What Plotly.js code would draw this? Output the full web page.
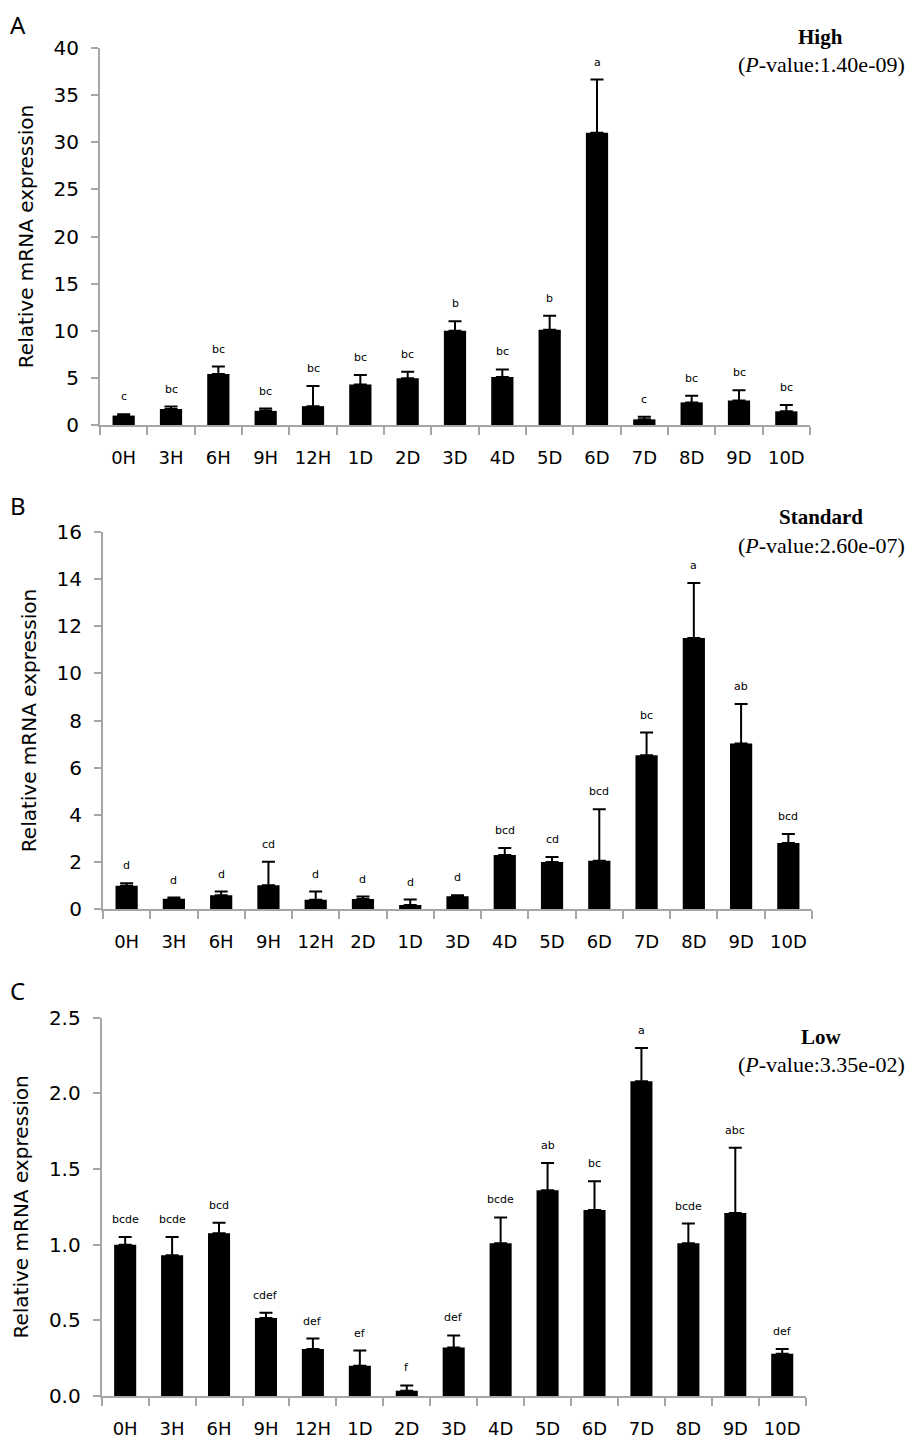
<!DOCTYPE html>
<html><head><meta charset="utf-8">
<script src="https://cdn.plot.ly/plotly-3.0.1.min.js"></script>
<style>html,body{margin:0;padding:0;background:#fff}</style>
</head><body><div id="chart" style="width:915px;height:1450px"></div>
<script>
// ---- data ----
const catsA = ['0H','3H','6H','9H','12H','1D','2D','3D','4D','5D','6D','7D','8D','9D','10D'];
const valsA = [1.0,1.7,5.4,1.5,2.0,4.3,4.95,10.0,5.1,10.1,31.0,0.6,2.4,2.6,1.45];
const errA  = [0.15,0.25,0.8,0.25,2.15,1.0,0.7,1.0,0.8,1.5,5.65,0.28,0.7,1.1,0.67];
const lettersA = ['c','bc','bc','bc','bc','bc','bc','b','bc','b','a','c','bc','bc','bc'];

const catsB = ['0H','3H','6H','9H','12H','2D','1D','3D','4D','5D','6D','7D','8D','9D','10D'];
const valsB = [1.0,0.45,0.6,1.02,0.4,0.44,0.18,0.55,2.3,2.0,2.06,6.53,11.5,7.03,2.81];
const errB  = [0.1,0.05,0.15,1.0,0.35,0.1,0.23,0.05,0.3,0.22,2.18,0.96,2.33,1.67,0.38];
const lettersB = ['d','d','d','cd','d','d','d','d','bcd','cd','bcd','bc','a','ab','bcd'];

const catsC = ['0H','3H','6H','9H','12H','1D','2D','3D','4D','5D','6D','7D','8D','9D','10D'];
const valsC = [1.0,0.93,1.075,0.515,0.31,0.2,0.035,0.32,1.01,1.36,1.23,2.08,1.01,1.21,0.28];
const errC  = [0.05,0.12,0.07,0.035,0.07,0.1,0.035,0.08,0.17,0.18,0.19,0.22,0.13,0.43,0.03];
const lettersC = ['bcde','bcde','bcd','cdef','def','ef','f','def','bcde','ab','bc','a','bcde','abc','def'];

const panelNames = ['High','Standard','Low'];
const pvalues = ['1.40e-09','2.60e-07','3.35e-02'];
const panelLetters = ['A','B','C'];
const yTitle = 'Relative mRNA expression';

// ---- layout helpers ----
const W=915, H=1450, M={l:90,r:100,t:40,b:50};
const pw=W-M.l-M.r, ph=H-M.t-M.b;
const fx = px => (px-M.l)/pw;
const fy = py => 1-(py-M.t)/ph;

const SANS = '"DejaVu Sans", "Noto Sans", sans-serif';
const SERIF = '"Liberation Serif", "Times New Roman", serif';
const AX = '#a6a6a6';

const panels = [
  {cats:catsA, vals:valsA, err:errA, letters:lettersA, x:[100,810], y:[48,425], range:[0,40], dtick:5, fmt:'',
   title:[820,37], pv:[821,64], lab:[18,24]},
  {cats:catsB, vals:valsB, err:errB, letters:lettersB, x:[103,812], y:[531.7,909.3], range:[0,16], dtick:2, fmt:'',
   title:[821,517], pv:[821,545], lab:[18,505]},
  {cats:catsC, vals:valsC, err:errC, letters:lettersC, x:[101.7,805.7], y:[1017.7,1396], range:[0,2.5], dtick:0.5, fmt:'.1f',
   title:[821,1037], pv:[821,1064], lab:[17,990]}
];

const data=[], annotations=[];
const layout = {
  width:W, height:H, margin:M, paper_bgcolor:'#fff', plot_bgcolor:'#fff',
  showlegend:false, bargap:0.53, font:{family:SANS, color:'#000'}
};

panels.forEach((p,i)=>{
  const n = i===0 ? '' : String(i+1);
  data.push({
    type:'bar', x:p.cats, y:p.vals, xaxis:'x'+n, yaxis:'y'+n,
    marker:{color:'#000', line:{width:0}},
    error_y:{type:'data', symmetric:false, array:p.err, arrayminus:p.err.map(()=>0),
             color:'#000', thickness:2, width:6.5},
    hoverinfo:'skip'
  });
  layout['xaxis'+n] = {
    domain:[fx(p.x[0]), fx(p.x[1])], anchor:'y'+n, type:'category',
    tickson:'boundaries', ticks:'outside', ticklen:8, tickwidth:2, tickcolor:AX,
    showline:true, linecolor:AX, linewidth:2, showgrid:false, zeroline:false,
    tickfont:{size:18, family:SANS, color:'#000'}, ticklabelstandoff:15, fixedrange:true
  };
  layout['yaxis'+n] = {
    domain:[fy(p.y[1]), fy(p.y[0])], anchor:'x'+n, range:p.range, dtick:p.dtick, tick0:0,
    tickformat:p.fmt, ticks:'outside', ticklen:7, tickwidth:2, tickcolor:AX,
    showline:true, linecolor:AX, linewidth:2, showgrid:false, zeroline:false,
    tickfont:{size:20, family:SANS, color:'#000'}, ticklabelstandoff:8, fixedrange:true,
    title:{text:yTitle, font:{size:20, family:SANS, color:'#000'}, standoff:15}
  };
  p.cats.forEach((c,k)=>{
    annotations.push({xref:'x'+n, yref:'y'+n, x:c, y:p.vals[k]+p.err[k], text:p.letters[k],
      showarrow:false, yanchor:'bottom', xanchor:'center', yshift:9,
      font:{size:11, family:SANS, color:'#000'}});
  });
  annotations.push({xref:'paper', yref:'paper', x:fx(p.title[0]), y:fy(p.title[1]),
    text:'<b>'+panelNames[i]+'</b>', showarrow:false, xanchor:'center', yanchor:'middle',
    font:{size:21, family:SERIF, color:'#000'}});
  annotations.push({xref:'paper', yref:'paper', x:fx(p.pv[0]), y:fy(p.pv[1]),
    text:'(<i>P</i>-value:'+pvalues[i]+')', showarrow:false, xanchor:'center', yanchor:'middle',
    font:{size:22, family:SERIF, color:'#000'}});
  annotations.push({xref:'paper', yref:'paper', x:fx(p.lab[0]), y:fy(p.lab[1]),
    text:panelLetters[i], showarrow:false, xanchor:'center', yanchor:'middle',
    font:{size:24, family:'"Noto Sans", sans-serif', color:'#000'}});
});
layout.annotations = annotations;

Plotly.newPlot('chart', data, layout, {staticPlot:true, displayModeBar:false});
</script></body></html>
